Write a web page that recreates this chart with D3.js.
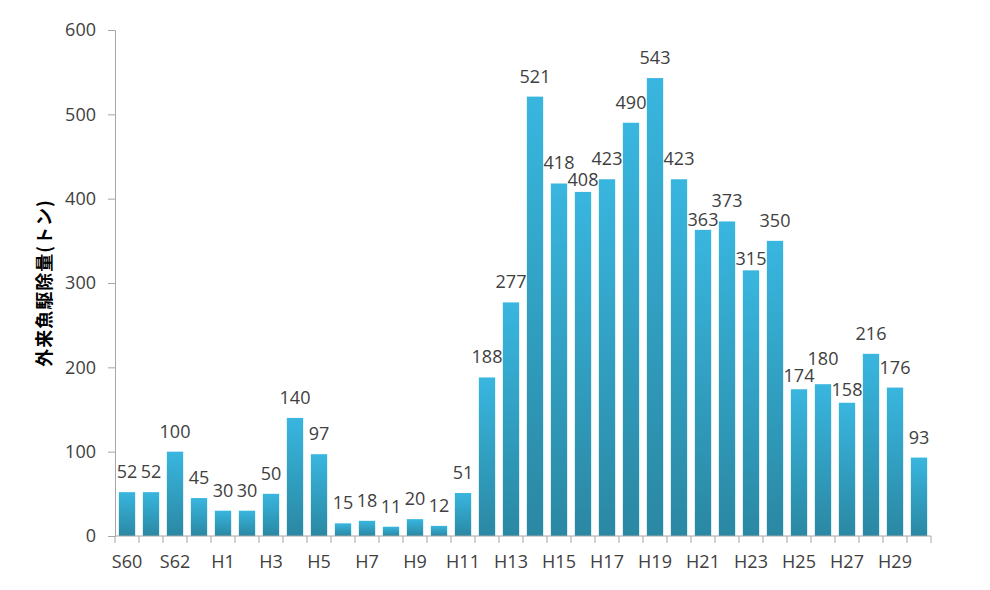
<!DOCTYPE html>
<html><head><meta charset="utf-8">
<script src="https://cdn.jsdelivr.net/npm/d3@7"></script>
<style>body{margin:0;background:#fff}svg{display:block}</style>
</head><body>
<svg id="c" width="990" height="590"></svg>
<script>
const categories = ["S60","S61","S62","S63","H1","H2","H3","H4","H5","H6","H7","H8","H9","H10","H11","H12","H13","H14","H15","H16","H17","H18","H19","H20","H21","H22","H23","H24","H25","H26","H27","H28","H29","H30"];
const values = [52,52,100,45,30,30,50,140,97,15,18,11,20,12,51,188,277,521,418,408,423,490,543,423,363,373,315,350,174,180,158,216,176,93];
const yTicks = [0,100,200,300,400,500,600];
const yTitle = "外来魚駆除量(トン)";

const svg = d3.select("#c");
const m = {left:115, right:931, top:30, bottom:536};
const x = d3.scaleBand().domain(categories).range([m.left, m.right]).paddingInner(0.32).paddingOuter(0.16);
const y = d3.scaleLinear().domain([0,600]).range([m.bottom, m.top]);

const defs = svg.append("defs");
const g = defs.append("linearGradient").attr("id","bg").attr("x1",0).attr("y1",0).attr("x2",0).attr("y2",1);
g.append("stop").attr("offset","0%").attr("stop-color","#39b6df");
g.append("stop").attr("offset","100%").attr("stop-color","#2a88a3");

svg.append("g").selectAll("rect").data(values).join("rect")
  .attr("x",(d,i)=>x(categories[i]))
  .attr("width",x.bandwidth())
  .attr("y",d=>y(d))
  .attr("height",d=>y(0)-y(d))
  .attr("fill","url(#bg)");

const font = "'Open Sans', 'Noto Sans', sans-serif";
// y axis
const ya = svg.append("g").attr("transform",`translate(${m.left},0)`)
  .call(d3.axisLeft(y).tickValues(yTicks).tickSize(7).tickPadding(12));
ya.select(".domain").attr("stroke","#a6a6a6");
ya.selectAll(".tick line").attr("stroke","#a6a6a6");
ya.selectAll("text").attr("font-family",font).attr("font-size",18).attr("fill","#404040");

// x axis
const xa = svg.append("g").attr("transform",`translate(0,${m.bottom})`)
  .call(d3.axisBottom(x).tickSize(0).tickPadding(19).tickFormat((d,i)=> i%2===0 ? d : ""));
xa.select(".domain").attr("stroke","#a6a6a6").attr("d",`M${m.left},0H${m.right}`);
xa.selectAll("text").attr("font-family",font).attr("font-size",18).attr("fill","#404040");
const bounds = d3.range(categories.length+1).map(i => m.left + (m.right-m.left)*i/categories.length);
xa.append("g").selectAll("line").data(bounds).join("line")
  .attr("x1",d=>d).attr("x2",d=>d).attr("y1",0).attr("y2",7).attr("stroke","#a6a6a6");

// value labels (a few nudged vertically as in the reference, to avoid overlaps)
const labelShift = {19: 8, 24: 10, 26: 9, 28: 7, 29: -5, 30: 7};
svg.append("g").selectAll("text").data(values).join("text")
  .attr("x",(d,i)=>x(categories[i])+x.bandwidth()/2)
  .attr("y",(d,i)=>y(d)-14+(labelShift[i]||0))
  .attr("text-anchor","middle")
  .attr("font-family",font).attr("font-size",18).attr("fill","#404040")
  .text(d=>d);

// y title
svg.append("text")
  .attr("transform","translate(51,283) rotate(-90)")
  .attr("text-anchor","middle")
  .attr("font-family","'Noto Sans CJK JP', sans-serif")
  .attr("font-weight","bold").attr("font-size",18).attr("letter-spacing",1).attr("fill","#000")
  .text(yTitle);
</script>
</body></html>
